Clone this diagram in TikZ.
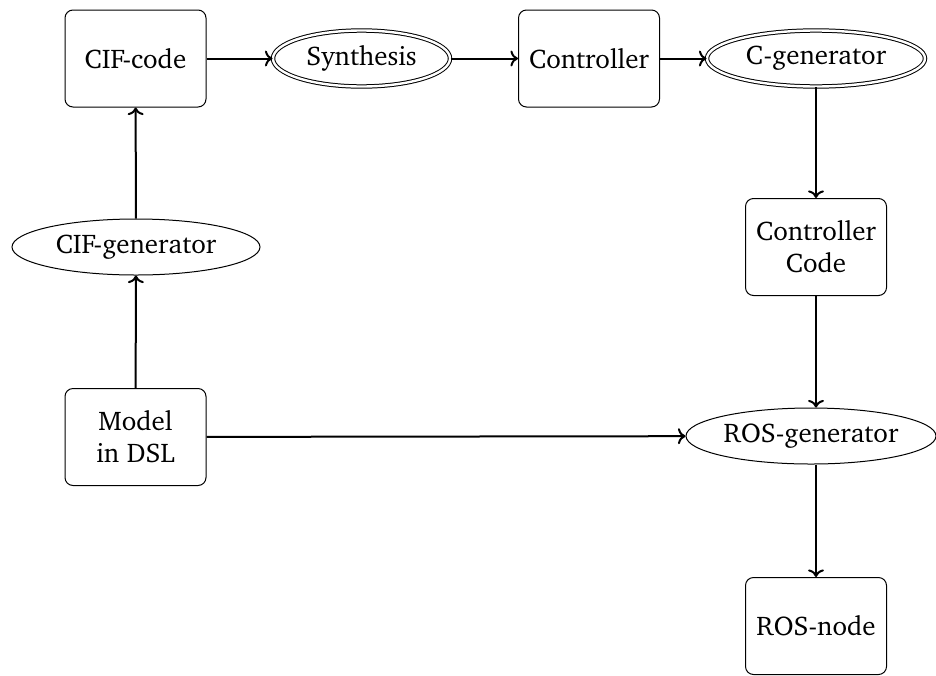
\documentclass[tikz,border=0pt]{standalone}
\usepackage[T1]{fontenc}
\usepackage{charter}
\usetikzlibrary{shapes.geometric,arrows.meta}
\begin{document}
\begin{tikzpicture}[x=0.5pt,y=-0.5pt,
  every node/.style={font=\fontsize{13.5}{16}\selectfont},
  block/.style={draw, rounded corners=4pt, line width=0.5pt,
    minimum width=70.5pt, minimum height=48.5pt, align=center, inner sep=0pt},
  gen/.style={draw, ellipse, line width=0.5pt, inner sep=0pt, minimum height=28pt},
  dgen/.style={gen, double, double distance=1.2pt},
  flow/.style={->, line width=1pt}]
  \useasboundingbox (0,0) rectangle (936,675);

  % top row
  \node[block] (cifcode) at (135.5,58.5) {CIF-code};
  \node[dgen, minimum width=88.5pt] (synth) at (361.5,58.5) {Synthesis};
  \node[block] (ctrl) at (589,58.5) {Controller};
  \node[dgen, minimum width=109pt] (cgen) at (816,58.5) {C-generator};

  % middle rows
  \node[gen, minimum width=124pt] (cifgen) at (136,247) {CIF-generator};
  \node[block] (ccode) at (816,247) {Controller\\Code};
  \node[block] (model) at (135.5,437) {Model\\in DSL};
  \node[gen, minimum width=125pt] (rosgen) at (811,436) {ROS-generator};

  % bottom
  \node[block] (rosnode) at (816,626) {ROS-node};

  % connectors
  \draw[flow] (cifcode) -- (synth);
  \draw[flow] (synth) -- (ctrl);
  \draw[flow] (ctrl) -- (cgen);
  \draw[flow] (cgen) -- (ccode);
  \draw[flow] (ccode) -- (ccode |- rosgen.north);
  \draw[flow] (ccode |- rosgen.south) -- (rosnode);
  \draw[flow] (model) -- (rosgen);
  \draw[flow] (model) -- (cifgen);
  \draw[flow] (cifgen) -- (cifcode);
\end{tikzpicture}
\end{document}
